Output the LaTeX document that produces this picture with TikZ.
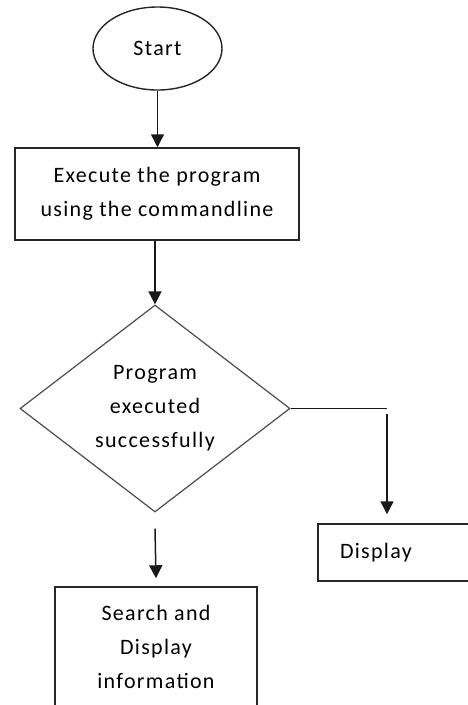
\documentclass[tikz,border=0pt]{standalone}
\usepackage{fontspec}
\setmainfont{Carlito}[LetterSpace=6]
\usepackage{tikz}
\usetikzlibrary{shapes.geometric, arrows.meta, positioning}

\begin{document}
\begin{tikzpicture}[
    x=1pt, y=-1pt,
    every node/.style={font=\fontsize{22}{34}\selectfont},
    startnode/.style={draw=black!85, line width=1.4pt, ellipse, minimum width=129pt, minimum height=83pt, inner sep=0pt},
    box/.style={draw=black!85, line width=1.5pt, rectangle, align=center, inner sep=0pt},
    decision/.style={draw=black!70, line width=1.2pt, diamond, minimum width=270pt, minimum height=207pt, inner sep=0pt, align=center},
    flow_line/.style={line width=1.5pt, draw=black!90},
    flow_arrow/.style={flow_line, -{Triangle[width=13pt, length=13pt]}}
]
    \useasboundingbox (0,0) rectangle (468,705);

    % Nodes
    \node (start) [startnode] at (157.5, 48.5) {Start};
    \node (exec) [box, minimum width=284pt, minimum height=92pt] at (157, 194) {Execute the program\\using the commandline};
    \node (check) [decision] at (155, 408.5) {Program\\executed\\successfully};
    \node (display) [box, text width=128pt, inner xsep=22pt, minimum height=57pt, align=left] at (404, 552.5) {Display};
    \node (search) [box, minimum width=202pt, minimum height=120pt] at (156, 647) {Search and\\Display\\information};

    % Corner of the right branch
    \coordinate (turn) at (387, 408.5);
    \coordinate (turn_low) at (387, 414);

    % Connectors
    \draw [flow_arrow] (start.south) -- (start.south |- exec.north);
    \draw [flow_arrow] (check.north |- exec.south) -- (check.north);
    \draw [flow_line] (check.east) -- (turn);
    \draw [flow_arrow] (turn_low) -- ([yshift=9pt]turn_low |- display.north);
    \draw [flow_arrow] ([yshift=-16pt]check.south) -- ([yshift=8pt]search.north);
\end{tikzpicture}
\end{document}
